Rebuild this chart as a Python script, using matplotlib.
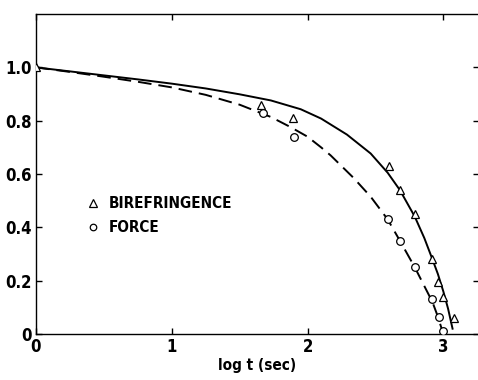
import matplotlib
matplotlib.use("Agg")
import matplotlib.pyplot as plt

plt.rcParams['font.family'] = ['DejaVu Sans']
plt.rcParams['font.stretch'] = 'condensed'
plt.rcParams['font.weight'] = 'bold'

# Measured points
bire_x = [0.0, 1.66, 1.89, 2.60, 2.68, 2.79, 2.92, 2.96, 3.00, 3.08]
bire_y = [1.0, 0.86, 0.81, 0.63, 0.54, 0.45, 0.28, 0.196, 0.14, 0.06]
force_x = [1.67, 1.90, 2.59, 2.68, 2.79, 2.92, 2.97, 3.00]
force_y = [0.83, 0.74, 0.43, 0.35, 0.25, 0.13, 0.065, 0.012]

# Curves
solid_x = [0.0, 0.25, 0.5, 0.75, 1.0, 1.25, 1.5, 1.73, 1.95, 2.1, 2.29, 2.465, 2.59,
           2.68, 2.79, 2.86, 2.92, 2.96, 3.0, 3.035, 3.068]
solid_y = [1.0, 0.985, 0.97, 0.955, 0.939, 0.921, 0.899, 0.876, 0.843, 0.808, 0.748,
           0.677, 0.605, 0.54, 0.44, 0.36, 0.28, 0.225, 0.16, 0.095, 0.02]
dash_x = [0.0, 0.25, 0.5, 0.75, 1.0, 1.25, 1.5, 1.73, 1.875, 2.0, 2.1, 2.17, 2.34,
          2.465, 2.59, 2.68, 2.79, 2.86, 2.92, 2.96, 3.0]
dash_y = [1.0, 0.983, 0.965, 0.946, 0.925, 0.897, 0.86, 0.814, 0.776, 0.74, 0.70, 0.67,
          0.585, 0.515, 0.43, 0.35, 0.25, 0.18, 0.12, 0.065, 0.0]

fig = plt.figure(figsize=(4.78, 3.8), dpi=100)
ax = fig.add_axes([0.0753, 0.121, 0.926, 0.842])

ax.plot(solid_x, solid_y, color='black', lw=1.4, zorder=2)
ax.plot(dash_x, dash_y, color='black', lw=1.4, dashes=(7, 3.6), zorder=2)
ax.plot(bire_x, bire_y, ls='none', marker='^', ms=6, mfc='white', mec='black', mew=0.9,
        zorder=3, label='BIREFRINGENCE')
ax.plot(force_x, force_y, ls='none', marker='o', ms=5.5, mfc='white', mec='black', mew=0.9,
        zorder=3, label='FORCE')

ax.set_xlim(0, 3.26)
ax.set_ylim(0, 1.2)
ax.set_xticks([0, 1, 2, 3])
ax.set_xticklabels(['0', '1', '2', '3'])
ax.set_yticks([0, 0.2, 0.4, 0.6, 0.8, 1.0])
ax.set_yticklabels(['0', '0.2', '0.4', '0.6', '0.8', '1.0'])
ax.tick_params(direction='in', length=4.5, width=1, top=True, right=True,
               labelsize=12, pad=3)
ax.set_xlabel('log t (sec)', fontsize=11, fontweight='bold', labelpad=1)
for s in ax.spines.values():
    s.set_linewidth(1.0)

leg = ax.legend(loc='center left', bbox_to_anchor=(0.085, 0.37), frameon=False,
                fontsize=11, handlelength=0.8, handletextpad=0.6, labelspacing=0.6,
                markerscale=0.85)

fig.savefig('out.png', dpi=100)
